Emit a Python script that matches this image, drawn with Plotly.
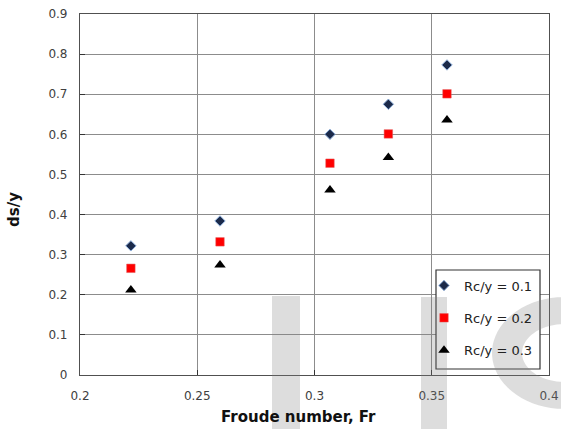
import numpy as np
import plotly.graph_objects as go

# Froude numbers and relative scour depth for three curvature ratios
froude = [0.2217, 0.2597, 0.3066, 0.3315, 0.3565]
ds_rc01 = [0.322, 0.384, 0.600, 0.675, 0.773]
ds_rc02 = [0.266, 0.332, 0.528, 0.601, 0.701]
ds_rc03 = [0.212, 0.274, 0.461, 0.542, 0.636]
series_names = ["Rc/y = 0.1", "Rc/y = 0.2", "Rc/y = 0.3"]

x_ticks = [0.2, 0.25, 0.3, 0.35, 0.4]
x_tick_text = ["0.2", "0.25", "0.3", "0.35", "0.4"]
y_ticks = [0, 0.1, 0.2, 0.3, 0.4, 0.5, 0.6, 0.7, 0.8, 0.9]
y_tick_text = ["0", "0.1", "0.2", "0.3", "0.4", "0.5", "0.6", "0.7", "0.8", "0.9"]

W, H = 561, 429
ML, MR, MT, MB = 80, 12, 14, 54
PW, PH = W - ML - MR, H - MT - MB


def px(xp):
    return (xp - ML) / PW


def py(yp):
    return (H - MB - yp) / PH


fig = go.Figure()
styles = [
    dict(symbol="diamond", size=8, color="#1b2a4a", line=dict(color="#8fb0dc", width=1)),
    dict(symbol="square", size=8.5, color="#ff0000", line=dict(color="#e06060", width=0.5)),
    dict(symbol="triangle-up", size=10, color="#000000", line=dict(width=0)),
]
for i, (name, vals) in enumerate(zip(series_names, [ds_rc01, ds_rc02, ds_rc03])):
    fig.add_trace(go.Scatter(
        x=froude, y=vals, mode="markers", name=name,
        legendgroup=f"g{i}", marker=styles[i],
    ))

axis_font = dict(family="DejaVu Sans", size=12, color="#404040")
common = dict(
    showgrid=True, gridcolor="#8c8c8c", gridwidth=1,
    showline=True, linecolor="#505050", linewidth=1.2, mirror=True,
    ticks="inside", ticklen=5, tickcolor="#333333", tickwidth=1,
    tickfont=axis_font, zeroline=False, automargin=False,
    ticklabelstandoff=9,
)
fig.update_xaxes(range=[0.2, 0.4], tickvals=x_ticks, ticktext=x_tick_text, **common)
fig.update_yaxes(range=[0, 0.9], tickvals=y_ticks, ticktext=y_tick_text, **common)

title_font = dict(family="DejaVu Sans", size=15, color="#111111")
annotations = [
    dict(text="<b>Froude number, Fr</b>", xref="paper", yref="paper",
         x=px(298), y=py(417), xanchor="center", yanchor="middle",
         showarrow=False, font=title_font),
    dict(text="<b>ds/y</b>", xref="paper", yref="paper", textangle=-90,
         x=px(14), y=py(210), xanchor="center", yanchor="middle",
         showarrow=False, font=title_font),
]

shapes = []
# legend frame
shapes.append(dict(type="rect", xref="paper", yref="paper", layer="above",
                   x0=px(436), x1=px(540), y0=py(369), y1=py(270),
                   fillcolor="white", line=dict(color="#333333", width=1.2)))

# faint "IC" logo overlay
wm = dict(type="path", xref="paper", yref="paper", layer="above",
          fillcolor="rgb(128,128,128)", opacity=0.27, line=dict(width=0))
for x0, x1, ytop in [(272, 300, 296), (421, 447, 297)]:
    d = (f"M{px(x0)},{py(H)} L{px(x1)},{py(H)} L{px(x1)},{py(ytop)} "
         f"L{px(x0)},{py(ytop)} Z")
    shapes.append(dict(wm, path=d))

cx, cy = 565, 353
t_out = np.radians(np.linspace(30, 330, 60))
t_in = t_out[::-1]
outer = [(cx + 73 * np.cos(t), cy - 56 * np.sin(t)) for t in t_out]
inner = [(cx + 43 * np.cos(t), cy - 29 * np.sin(t)) for t in t_in]
pts = outer + inner
d = "M" + " L".join(f"{px(a)},{py(b)}" for a, b in pts) + " Z"
shapes.append(dict(wm, path=d))

fig.update_layout(
    width=W, height=H,
    margin=dict(l=ML, r=MR, t=MT, b=MB),
    paper_bgcolor="white", plot_bgcolor="white",
    font=dict(family="DejaVu Sans", size=12, color="#404040"),
    shapes=shapes, annotations=annotations,
    legend=dict(
        x=px(424), y=py(270.5), xanchor="left", yanchor="top",
        bgcolor="rgba(0,0,0,0)", borderwidth=0,
        font=dict(family="DejaVu Sans", size=13, color="#222222"),
        tracegroupgap=12.5, itemwidth=30,
    ),
    showlegend=True,
)

fig.write_html("out.html")
